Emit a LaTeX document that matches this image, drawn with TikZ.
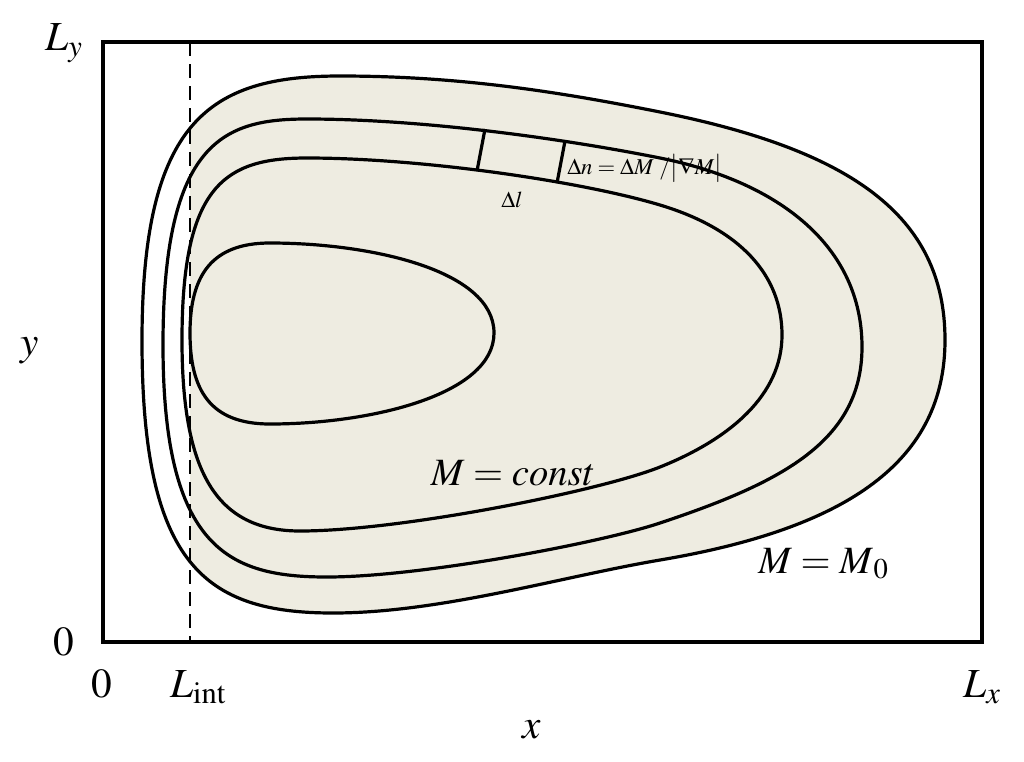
\documentclass[tikz,border=0pt]{standalone}
\usepackage{mathptmx}
\usepackage{fontspec}
\setmainfont{Liberation Serif}
\definecolor{tanbg}{HTML}{EEECE1}
\tikzset{
  contour/.style={line width=2.4pt, black},
  frameline/.style={line width=2.4pt, black},
  intline/.style={line width=1.5pt, black, dash pattern=on 10.5pt off 6pt},
  biglabel/.style={inner sep=0pt, font=\fontsize{29}{32}\selectfont},
  axlabel/.style={inner sep=0pt, font=\fontsize{31}{34}\selectfont},
  smalllabel/.style={inner sep=0pt, font=\fontsize{17}{19}\selectfont},
}
\begin{document}
\begin{tikzpicture}[x=0.75pt,y=-0.75pt]
\useasboundingbox (0,0) rectangle (1024,761);
% shaded region right of the dashed line
\begin{scope}
  \clip (190,0) rectangle (1024,761);
  \fill[tanbg] (142,341) .. controls (142,120) and (210,76) .. (340,76)
    .. controls (460,76) and (560,92) .. (660,112)
    .. controls (850,150) and (945,215) .. (945,340)
    .. controls (945,460) and (850,528) .. (660,560)
    .. controls (560,577) and (440,613) .. (333,613)
    .. controls (205,613) and (142,565) .. (142,341) -- cycle;
\end{scope}
% contour M = M0
\draw[contour] (142,341) .. controls (142,120) and (210,76) .. (340,76)
    .. controls (460,76) and (560,92) .. (660,112)
    .. controls (850,150) and (945,215) .. (945,340)
    .. controls (945,460) and (850,528) .. (660,560)
    .. controls (560,577) and (440,613) .. (333,613)
    .. controls (205,613) and (142,565) .. (142,341) -- cycle;
% second contour
\draw[contour] (163,345) .. controls (163,140) and (225,119) .. (307,119)
    .. controls (420,119) and (560,138) .. (660,158)
    .. controls (780,182) and (862,247) .. (862,347)
    .. controls (862,442) and (780,483) .. (660,523)
    .. controls (600,543) and (420,577) .. (327,577)
    .. controls (230,577) and (163,550) .. (163,345) -- cycle;
% third contour
\draw[contour] (182,340) .. controls (182,185) and (225,158) .. (307,158)
    .. controls (420,158) and (580,181) .. (660,205)
    .. controls (740,229) and (782,275) .. (782,335)
    .. controls (782,395) and (730,439) .. (660,467)
    .. controls (600,491) and (400,531) .. (300,531)
    .. controls (215,531) and (182,470) .. (182,340) -- cycle;
% innermost contour
\draw[contour] (190,333) .. controls (190,275) and (212,243) .. (270,243)
    .. controls (370,243) and (494,270) .. (494,333)
    .. controls (494,395) and (370,424) .. (270,424)
    .. controls (210,424) and (190,390) .. (190,333) -- cycle;
% element box
\coordinate (b1) at (485,129);
\coordinate (b2) at (477,171);
\coordinate (b3) at (565,141);
\coordinate (b4) at (557,183);
\draw[contour] (b1) -- (b2);
\draw[contour] (b3) -- (b4);
% dashed interface line
\coordinate (dtop) at (190,42);
\coordinate (dbot) at (190,642);
\draw[intline] (dtop) -- (dbot);
% frame
\draw[frameline] (103,42) rectangle (982,642);
% labels
\node[smalllabel, anchor=base west] (dn) at (567,174) {$\Delta n=\Delta M\ /\bigl|\nabla M\bigr|$};
\node[smalllabel, anchor=base] (dl) at (512,207) {$\Delta l$};
\node[biglabel, anchor=base] (mc) at (513,485) {$M=const$};
\node[biglabel, anchor=base west] (m0) at (758,573) {$M=M_{\,0}$};
\node[axlabel, anchor=base] (ly) at (64,50) {$L_y$};
\node[axlabel, anchor=base] (yl) at (30,355) {$y$};
\node[axlabel, anchor=base] (z1) at (64,655) {$0$};
\node[axlabel, anchor=base] (z2) at (102,697) {$0$};
\node[axlabel, anchor=base] (li) at (198,697) {$L_{\mathrm{int}}$};
\node[axlabel, anchor=base] (lx) at (982,697) {$L_x$};
\node[axlabel, anchor=base] (xl) at (532,738) {$x$};
\end{tikzpicture}
\end{document}
